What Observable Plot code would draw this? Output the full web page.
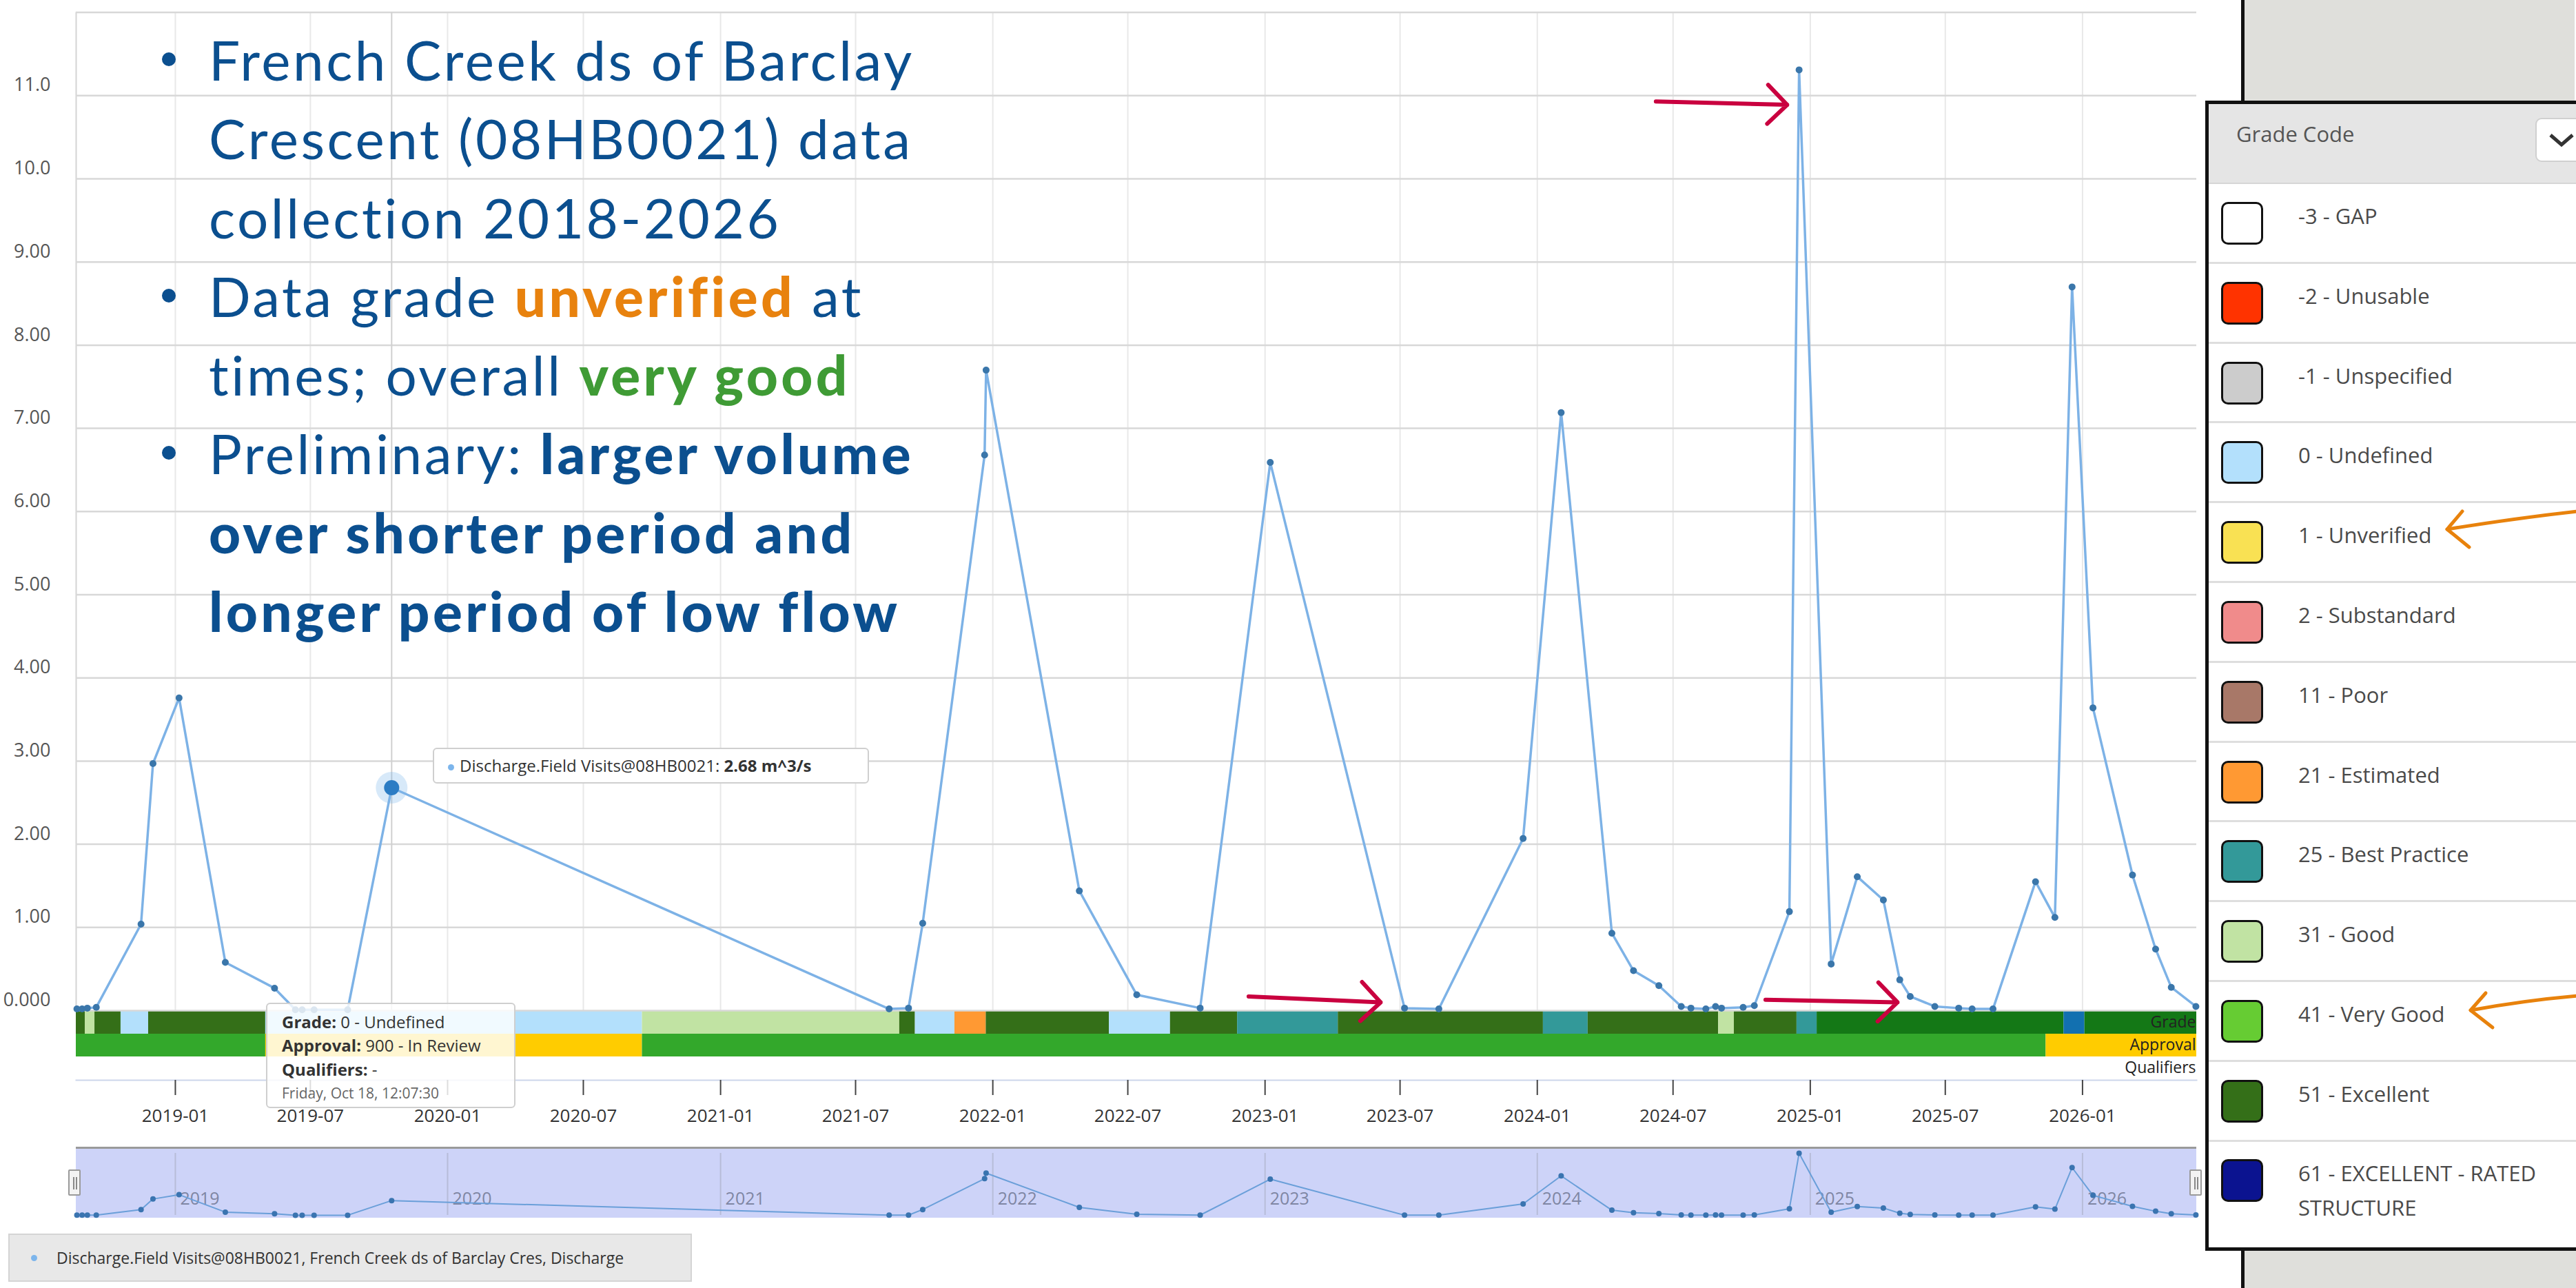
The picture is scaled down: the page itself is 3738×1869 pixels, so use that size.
<!DOCTYPE html>
<html><head><meta charset="utf-8">
<script src="https://cdn.jsdelivr.net/npm/d3@7"></script>
<script src="https://cdn.jsdelivr.net/npm/@observablehq/plot@0.6"></script>
<style>
html,body{margin:0;padding:0;background:#fff;}
#page{position:relative;width:3738px;height:1869px;overflow:hidden;background:#fff;font-family:"Open Sans",sans-serif;}
.abs{position:absolute;}
#notes{position:absolute;left:303px;top:29px;font-family:Lato,sans-serif;font-size:80px;line-height:114.3px;color:#0b4f8f;white-space:nowrap;letter-spacing:3.5px;}
#notes .ln{position:relative;height:114.3px;}
#notes .ln.b::before{content:"";position:absolute;left:-68px;top:47px;width:20px;height:20px;border-radius:50%;background:#0b4f8f;}
#notes .bold{font-weight:900;letter-spacing:4.4px;}
#notes .or{color:#e8820e;font-weight:900;letter-spacing:4.4px;}
#notes .gr{color:#3f9b35;font-weight:900;letter-spacing:4.4px;}
.tip{position:absolute;border:2px solid #cfcfcf;border-radius:6px;font-size:24px;color:#333;box-sizing:border-box;}
.row{position:absolute;left:0;width:560px;box-sizing:border-box;border-bottom:3px solid #dedede;}
.sw{position:absolute;left:18px;width:61px;height:62px;border:3px solid #111;border-radius:10px;box-sizing:border-box;}
.rl{position:absolute;left:130px;width:390px;font-size:31px;color:#4a4a4a;line-height:50px;}
</style></head>
<body><div id="page"></div>
<script>
// ---------- data ----------
const visitDates = [
  "2018-08-22","2018-08-29","2018-09-05","2018-09-17",
  "2018-11-16","2018-12-02","2019-01-06","2019-03-09","2019-05-14",
  "2019-06-11","2019-06-20","2019-07-06","2019-08-20","2019-10-18",
  "2021-08-15","2021-09-10","2021-09-29","2021-12-21","2021-12-23",
  "2022-04-27","2022-07-13","2022-10-06","2023-01-08",
  "2023-07-07","2023-08-22","2023-12-13","2024-02-02",
  "2024-04-10","2024-05-09","2024-06-12","2024-07-12","2024-07-25","2024-08-14","2024-08-27","2024-09-04","2024-10-03","2024-10-18",
  "2024-12-04","2024-12-17","2025-01-29","2025-03-05","2025-04-09","2025-05-01","2025-05-15","2025-06-17","2025-07-19","2025-08-06","2025-09-03",
  "2025-10-30","2025-11-25","2025-12-18","2026-01-15","2026-03-09","2026-04-09","2026-04-30","2026-06-02"
];
const dischargeValues = [
  0.02,0.02,0.03,0.04,
  1.04,2.97,3.76,0.58,0.27,
  0.01,0.01,0.01,0.01,2.68,
  0.02,0.03,1.05,6.68,7.70,
  1.44,0.19,0.03,6.59,
  0.03,0.02,2.07,7.19,
  0.93,0.48,0.30,0.05,0.03,0.02,0.05,0.03,0.04,0.06,
  1.19,11.31,0.56,1.61,1.33,0.37,0.17,0.05,0.03,0.02,0.02,
  1.55,1.12,8.70,3.64,1.63,0.74,0.28,0.05
];
const highlightDate = "2019-10-18";

const gradeStarts = ["2018-08-21","2018-09-02","2018-09-15","2018-10-20","2018-11-26","2019-05-02","2020-09-18","2021-08-29","2021-09-19","2021-11-11","2021-12-23","2022-06-06","2022-08-27","2022-11-25","2023-04-09","2024-01-09","2024-03-09","2024-08-31","2024-09-21","2024-12-14","2025-01-10","2025-12-07","2026-01-04"];
const gradeCodes  = ["51","31","51","0","51","0","31","51","0","21","51","0","51","25","51","25","51","31","51","25","51b","blue","51b"];
const approvalStarts = ["2018-08-21","2019-05-02","2020-09-18","2025-11-13"];
const approvalLevels = ["Approved","In Review","Approved","In Review"];
const seriesEnd = "2026-06-03";

const xTickDates = ["2019-01-01","2019-07-01","2020-01-01","2020-07-01","2021-01-01","2021-07-01","2022-01-01","2022-07-01","2023-01-01","2023-07-01","2024-01-01","2024-07-01","2025-01-01","2025-07-01","2026-01-01"];
const yTicks = [0,1,2,3,4,5,6,7,8,9,10,11];
const yTickLabels = ["0.000","1.00","2.00","3.00","4.00","5.00","6.00","7.00","8.00","9.00","10.0","11.0"];
const yGrid = [0,1,2,3,4,5,6,7,8,9,10,11,12];
const navYears = ["2019-01-01","2020-01-01","2021-01-01","2022-01-01","2023-01-01","2024-01-01","2025-01-01","2026-01-01"];
const navYearLabels = ["2019","2020","2021","2022","2023","2024","2025","2026"];

const legendCodes  = ["-3","-2","-1","0","1","2","11","21","25","31","41","51","61"];
const legendLabels = ["-3 - GAP","-2 - Unusable","-1 - Unspecified","0 - Undefined","1 - Unverified","2 - Substandard","11 - Poor","21 - Estimated","25 - Best Practice","31 - Good","41 - Very Good","51 - Excellent","61 - EXCELLENT - RATED STRUCTURE"];
const legendColors = ["#ffffff","#ff3300","#cccccc","#b3e0fc","#f9e153","#f08b8b","#a87868","#ff9933","#339999","#c1e3a3","#66cc33","#346f18","#0b1390"];
const extraCodes = ["51b","blue","Approved","In Review"];
const extraColors = ["#147816","#1270b0","#33a82b","#ffcc00"];

const redArrows = [
  {from:"2024-06-08", to:"2024-12-01", y1:10.93, y2:10.89},
  {from:"2022-12-10", to:"2023-06-05", y1:0.17, y2:0.10},
  {from:"2024-11-02", to:"2025-04-28", y1:0.13, y2:0.10}
];

// ---------- build ----------
const parse = d3.utcParse("%Y-%m-%d");
const xDomain = [parse("2018-08-21"), parse(seriesEnd)];
const series = visitDates.map((d,i)=>({date:parse(d), q:dischargeValues[i]}));
const hi = series.filter(d => +d.date === +parse(highlightDate));
const gradeSegs = gradeStarts.map((s,i)=>({start:parse(s), end:parse(gradeStarts[i+1] || seriesEnd), code:gradeCodes[i]}));
const apprSegs = approvalStarts.map((s,i)=>({start:parse(s), end:parse(approvalStarts[i+1] || seriesEnd), code:approvalLevels[i]}));
const arrows = redArrows.map(a=>({x1:parse(a.from), x2:parse(a.to), y1:a.y1, y2:a.y2}));
const page = document.getElementById("page");
const baseStyle = {background:"transparent", overflow:"visible", maxWidth:"none", fontFamily:"'Open Sans',sans-serif"};

function place(el, left, top){ el.style.position="absolute"; el.style.left=left+"px"; el.style.top=top+"px"; page.appendChild(el); return el; }

// grade / approval bars + x axis
const B = Plot.plot({
  width:3200, height:174, marginLeft:110, marginRight:13, marginTop:0, marginBottom:73,
  style:baseStyle,
  x:{type:"utc", domain:xDomain, axis:null},
  y:{type:"band", domain:["Grade","Approval","Qualifiers"], padding:0, axis:null},
  color:{domain:[...legendCodes, ...extraCodes], range:[...legendColors, ...extraColors]},
  marks:[
    Plot.barX(gradeSegs, {x1:"start", x2:"end", y:()=> "Grade", fill:"code", inset:0}),
    Plot.barX(apprSegs, {x1:"start", x2:"end", y:()=> "Approval", fill:"code", inset:0}),
    Plot.text(["Grade","Approval","Qualifiers"], {y:d=>d, text:d=>d, frameAnchor:"right", textAnchor:"end", dx:-1, fontSize:23, fill:"#222"}),
    Plot.frame({anchor:"bottom", stroke:"#ccd6eb", strokeWidth:2}),
    Plot.axisX({ticks:xTickDates.map(parse), tickFormat:d3.utcFormat("%Y-%m"), tickSize:22, tickPadding:20, fontSize:26, fill:"#333", stroke:"#444", strokeWidth:2})
  ]
});
place(B, 0, 1466);

// main chart
const A = Plot.plot({
  width:3200, height:1470, marginLeft:110, marginRight:13, marginTop:17.6, marginBottom:4,
  style:baseStyle,
  x:{type:"utc", domain:xDomain, axis:null},
  y:{domain:[0,12]},
  marks:[
    Plot.ruleX(xTickDates.map(parse), {stroke:"#e8e8e8", strokeWidth:2}),
    Plot.ruleX([xDomain[0]], {stroke:"#d4d4d4", strokeWidth:2}),
    Plot.ruleY(yGrid, {stroke:"#d8d8d8", strokeWidth:2.5}),
    Plot.ruleX(hi, {x:"date", stroke:"#d0d0d0", strokeWidth:2}),
    Plot.axisY({ticks:yTicks, tickFormat:d=>yTickLabels[yTicks.indexOf(d)], tickSize:0, tickPadding:37, dy:-15, fontSize:27, fill:"#555"}),
    Plot.line(series, {x:"date", y:"q", stroke:"#7db2e6", strokeWidth:3.5}),
    Plot.dot(series, {x:"date", y:"q", r:5, fill:"#3a76aa"}),
    Plot.dot(hi, {x:"date", y:"q", r:23, fill:"#7cb5ec", fillOpacity:0.3}),
    Plot.dot(hi, {x:"date", y:"q", r:11, fill:"#2b7cc4"}),
    Plot.arrow(arrows, {x1:"x1", y1:"y1", x2:"x2", y2:"y2", stroke:"#c9003f", strokeWidth:6, headLength:10, headAngle:90})
  ]
});
place(A, 0, 0);

// navigator
const navBorder = document.createElement("div");
navBorder.style.cssText = "width:3077px;height:3px;background:#9a9a9a;";
const C = Plot.plot({
  width:3077, height:101, marginLeft:0, marginRight:0, marginTop:7, marginBottom:4,
  style:{...baseStyle, background:"#cdd3f8"},
  x:{type:"utc", domain:xDomain, axis:null},
  y:{domain:[0,11.31], axis:null},
  marks:[
    Plot.ruleX(navYears.map(parse), {stroke:"#b7bcd8", strokeWidth:2}),
    Plot.text(navYears.map((d,i)=>({date:parse(d), label:navYearLabels[i]})), {x:"date", text:"label", frameAnchor:"bottom", textAnchor:"start", dx:7, dy:-16, fontSize:25, fill:"#7f86a3"}),
    Plot.line(series, {x:"date", y:"q", stroke:"#6a9fd9", strokeWidth:2}),
    Plot.dot(series, {x:"date", y:"q", r:4, fill:"#3a74b0"})
  ]
});
place(C, 110, 1666);
place(navBorder, 110, 1664);
function handle(x){
  const h = document.createElement("div");
  h.style.cssText = "width:18px;height:38px;background:#f3f3f3;border:2px solid #9a9a9a;border-radius:2px;box-sizing:border-box;";
  h.innerHTML = '<div style="position:absolute;left:5px;top:9px;width:2px;height:18px;background:#888"></div><div style="position:absolute;left:9px;top:9px;width:2px;height:18px;background:#888"></div>';
  place(h, x-9, 1697);
}
handle(108); handle(3186);

// bottom legend
const leg = document.createElement("div");
leg.style.cssText = "width:992px;height:70px;background:#e8e8e8;border:2px solid #d4d4d4;box-sizing:border-box;font-size:23px;color:#333;";
leg.innerHTML = '<div style="position:absolute;left:31px;top:29px;width:9px;height:9px;border-radius:50%;background:#7cb5ec"></div><div style="position:absolute;left:68px;top:0;line-height:66px;white-space:nowrap">Discharge.Field Visits@08HB0021, French Creek ds of Barclay Cres, Discharge</div>';
place(leg, 12, 1790);

// tooltips
const hv = hi[0];
const t1 = document.createElement("div");
t1.className = "tip";
t1.style.cssText += "width:633px;height:52px;background:#fff;line-height:48px;white-space:nowrap;padding-left:20px;";
t1.innerHTML = '<span style="display:inline-block;width:9px;height:9px;border-radius:50%;background:#7cb5ec;vertical-align:middle;margin-right:8px"></span>Discharge.Field Visits@08HB0021: <b>' + hv.q.toFixed(2) + ' m^3/s</b>';
place(t1, 628, 1085);
const t2 = document.createElement("div");
t2.className = "tip";
t2.style.cssText += "width:362px;height:153px;background:rgba(255,255,255,0.82);white-space:nowrap;";
t2.innerHTML = '<div style="position:absolute;left:21px;top:9px;line-height:34px"><b>Grade:</b> 0 - Undefined</div>' +
  '<div style="position:absolute;left:21px;top:43px;line-height:34px"><b>Approval:</b> 900 - In Review</div>' +
  '<div style="position:absolute;left:21px;top:78px;line-height:34px"><b>Qualifiers:</b> -</div>' +
  '<div style="position:absolute;left:21px;top:113px;line-height:32px;font-size:21px;color:#666">' + d3.utcFormat("%A, %b %d")(hv.date) + ', 12:07:30</div>';
place(t2, 386, 1455);

// notes overlay
const notes = document.createElement("div");
notes.id = "notes";
notes.innerHTML =
  '<div class="ln b">French Creek ds of Barclay</div>' +
  '<div class="ln">Crescent (08HB0021) data</div>' +
  '<div class="ln">collection 2018-2026</div>' +
  '<div class="ln b">Data grade <span class="or">unverified</span> at</div>' +
  '<div class="ln">times; overall <span class="gr">very good</span></div>' +
  '<div class="ln b">Preliminary: <span class="bold">larger volume</span></div>' +
  '<div class="ln bold">over shorter period and</div>' +
  '<div class="ln bold">longer period of low flow</div>';
page.appendChild(notes);

// right-hand grade legend panel
const gTop = document.createElement("div");
gTop.style.cssText = "width:484px;height:147px;background:#dfdfdb;border-left:5px solid #111;box-sizing:border-box;";
place(gTop, 3252, 0);
const gBot = document.createElement("div");
gBot.style.cssText = "width:486px;height:60px;background:#dfdfdb;border-left:5px solid #111;box-sizing:border-box;";
place(gBot, 3252, 1812);
const panel = document.createElement("div");
panel.style.cssText = "width:600px;height:1669px;background:#fff;border:5px solid #111;border-right:none;box-sizing:border-box;overflow:hidden;";
place(panel, 3200, 146);
const head = document.createElement("div");
head.style.cssText = "position:absolute;left:0;top:0;width:600px;height:116px;background:#e5e5e5;border-bottom:2px solid #d6d6d6;box-sizing:border-box;";
head.innerHTML = '<div style="position:absolute;left:40px;top:20px;font-size:31px;color:#555;line-height:46px">Grade Code</div>' +
  '<div style="position:absolute;left:474px;top:20px;width:80px;height:64px;background:#fff;border:2px solid #d0d0d0;border-radius:9px;box-sizing:border-box"></div>' +
  '<svg style="position:absolute;left:490px;top:40px" width="40" height="24"><polyline points="6,5 22,19 38,5" fill="none" stroke="#333" stroke-width="5"/></svg>';
panel.appendChild(head);
legendLabels.forEach((lab,i)=>{
  const last = i === legendLabels.length - 1;
  const r = document.createElement("div");
  r.className = "row";
  const top = 116 + i*115.8;
  r.style.top = top + "px";
  r.style.height = (last ? 160 : 115.8) + "px";
  if (last) r.style.borderBottom = "none";
  r.innerHTML = '<div class="sw" style="top:' + (last ? 25 : 26) + 'px;background:' + legendColors[i] + '"></div>' +
    '<div class="rl" style="top:' + (last ? 20 : 21) + 'px">' + lab + '</div>';
  panel.appendChild(r);
});

// hand-drawn orange arrows pointing at legend entries
const ov = document.createElementNS("http://www.w3.org/2000/svg","svg");
ov.setAttribute("width","3738"); ov.setAttribute("height","1869");
ov.style.cssText = "position:absolute;left:0;top:0;pointer-events:none;";
ov.innerHTML = '<g fill="none" stroke="#e8820c" stroke-width="5" stroke-linecap="round" stroke-linejoin="round">' +
  '<path d="M3740,742 Q3650,752 3551,768"/><path d="M3573,742 L3551,768 L3583,794"/>' +
  '<path d="M3740,1445 Q3660,1452 3585,1466"/><path d="M3607,1441 L3585,1466 L3617,1491"/></g>';
page.appendChild(ov);
</script>
</body></html>
